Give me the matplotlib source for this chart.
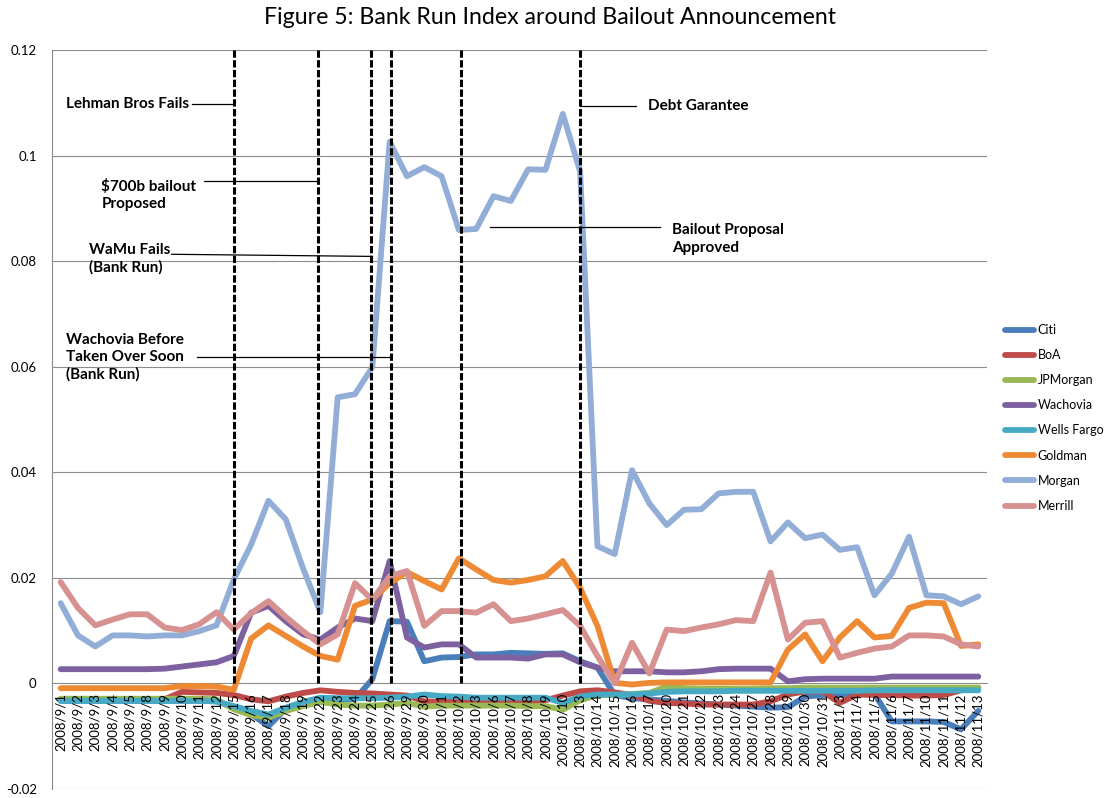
import matplotlib
matplotlib.use("Agg")
import matplotlib.pyplot as plt
import numpy as np

plt.rcParams['font.family'] = ['Lato', 'DejaVu Sans']

dates = ["2008/9/1", "2008/9/2", "2008/9/3", "2008/9/4", "2008/9/5", "2008/9/8", "2008/9/9",
         "2008/9/10", "2008/9/11", "2008/9/12", "2008/9/15", "2008/9/16", "2008/9/17", "2008/9/18",
         "2008/9/19", "2008/9/22", "2008/9/23", "2008/9/24", "2008/9/25", "2008/9/26", "2008/9/29",
         "2008/9/30", "2008/10/1", "2008/10/2", "2008/10/3", "2008/10/6", "2008/10/7", "2008/10/8",
         "2008/10/9", "2008/10/10", "2008/10/13", "2008/10/14", "2008/10/15", "2008/10/16",
         "2008/10/17", "2008/10/20", "2008/10/21", "2008/10/22", "2008/10/23", "2008/10/24",
         "2008/10/27", "2008/10/28", "2008/10/29", "2008/10/30", "2008/10/31", "2008/11/3",
         "2008/11/4", "2008/11/5", "2008/11/6", "2008/11/7", "2008/11/10", "2008/11/11",
         "2008/11/12", "2008/11/13"]

citi = [-0.0033, -0.0033, -0.0033, -0.0033, -0.0033, -0.0033, -0.0033, -0.0033, -0.0033, -0.0034,
        -0.0045, -0.0058, -0.0081, -0.0048, -0.0037, -0.0029, -0.0030, -0.0030, 0.0008, 0.0118,
        0.0117, 0.0042, 0.0049, 0.0050, 0.0055, 0.0055, 0.0058, 0.0057, 0.0056, 0.0057,
        0.0042, 0.0030, -0.0022, -0.0028, -0.0030, -0.0033, -0.0036, -0.0038, -0.0040, -0.0042,
        -0.0044, -0.0046, -0.0045, -0.0025, -0.0022, -0.0022, -0.0020, -0.0020, -0.0072, -0.0072,
        -0.0072, -0.0073, -0.0087, -0.0052]
boa = [-0.0030, -0.0030, -0.0030, -0.0030, -0.0030, -0.0030, -0.0030, -0.0016, -0.0017, -0.0018,
       -0.0022, -0.0030, -0.0034, -0.0025, -0.0018, -0.0013, -0.0016, -0.0018, -0.0019, -0.0021,
       -0.0023, -0.0034, -0.0035, -0.0035, -0.0036, -0.0036, -0.0036, -0.0034, -0.0032, -0.0023,
       -0.0015, -0.0013, -0.0017, -0.0022, -0.0033, -0.0037, -0.0038, -0.0040, -0.0040, -0.0040,
       -0.0040, -0.0034, -0.0021, -0.0015, -0.0015, -0.0037, -0.0021, -0.0022, -0.0022, -0.0023,
       -0.0023, -0.0022, -0.0013, -0.0008]
jpmorgan = [-0.0029, -0.0029, -0.0029, -0.0029, -0.0029, -0.0029, -0.0029, -0.0029, -0.0029, -0.0030,
            -0.0049, -0.0060, -0.0065, -0.0052, -0.0043, -0.0035, -0.0040, -0.0042, -0.0042, -0.0040,
            -0.0037, -0.0044, -0.0042, -0.0042, -0.0042, -0.0042, -0.0042, -0.0043, -0.0043, -0.0050,
            -0.0032, -0.0022, -0.0022, -0.0020, -0.0018, -0.0006, -0.0009, -0.0010, -0.0010, -0.0010,
            -0.0010, -0.0009, -0.0009, -0.0008, -0.0008, -0.0008, -0.0008, -0.0008, -0.0008, -0.0008,
            -0.0008, -0.0008, -0.0008, -0.0008]
wachovia = [0.0027, 0.0027, 0.0027, 0.0027, 0.0027, 0.0027, 0.0028, 0.0032, 0.0036, 0.0040,
            0.0052, 0.0134, 0.0147, 0.0118, 0.0093, 0.0083, 0.0106, 0.0123, 0.0118, 0.0232,
            0.0087, 0.0068, 0.0074, 0.0074, 0.0049, 0.0049, 0.0049, 0.0047, 0.0055, 0.0055,
            0.0040, 0.0030, 0.0023, 0.0023, 0.0023, 0.0021, 0.0021, 0.0023, 0.0027, 0.0028,
            0.0028, 0.0028, 0.0004, 0.0008, 0.0009, 0.0009, 0.0009, 0.0009, 0.0013, 0.0013,
            0.0013, 0.0013, 0.0013, 0.0013]
wells_fargo = [-0.0033, -0.0033, -0.0033, -0.0033, -0.0033, -0.0033, -0.0033, -0.0033, -0.0033, -0.0034,
               -0.0043, -0.0052, -0.0059, -0.0046, -0.0035, -0.0027, -0.0028, -0.0028, -0.0028, -0.0027,
               -0.0025, -0.0021, -0.0024, -0.0025, -0.0027, -0.0027, -0.0027, -0.0027, -0.0027, -0.0037,
               -0.0025, -0.0021, -0.0021, -0.0021, -0.0019, -0.0016, -0.0015, -0.0015, -0.0015, -0.0014,
               -0.0014, -0.0014, -0.0014, -0.0014, -0.0014, -0.0014, -0.0014, -0.0013, -0.0013, -0.0013,
               -0.0013, -0.0013, -0.0013, -0.0013]
goldman = [-0.0009, -0.0009, -0.0009, -0.0009, -0.0009, -0.0009, -0.0009, -0.0005, -0.0005, -0.0006,
           -0.0012, 0.0085, 0.0110, 0.0090, 0.0070, 0.0052, 0.0045, 0.0147, 0.0159, 0.0190,
           0.0211, 0.0194, 0.0178, 0.0237, 0.0216, 0.0196, 0.0191, 0.0196, 0.0203, 0.0232,
           0.0181, 0.0109, 0.0001, -0.0002, 0.0001, 0.0002, 0.0002, 0.0002, 0.0002, 0.0002,
           0.0002, 0.0002, 0.0064, 0.0093, 0.0042, 0.0087, 0.0118, 0.0087, 0.0090, 0.0143,
           0.0153, 0.0152, 0.0071, 0.0074]
morgan = [0.0152, 0.0091, 0.0070, 0.0091, 0.0091, 0.0089, 0.0091, 0.0091, 0.0099, 0.0110,
          0.0197, 0.0263, 0.0346, 0.0311, 0.0218, 0.0135, 0.0542, 0.0548, 0.0599, 0.1026,
          0.0961, 0.0978, 0.0961, 0.0859, 0.0861, 0.0923, 0.0914, 0.0974, 0.0973, 0.1079,
          0.0970, 0.0260, 0.0245, 0.0404, 0.0341, 0.0300, 0.0329, 0.0330, 0.0360, 0.0363,
          0.0363, 0.0269, 0.0305, 0.0275, 0.0282, 0.0253, 0.0258, 0.0167, 0.0208, 0.0278,
          0.0167, 0.0165, 0.0150, 0.0165]
merrill = [0.0192, 0.0143, 0.0110, 0.0121, 0.0131, 0.0131, 0.0106, 0.0101, 0.0112, 0.0135,
           0.0102, 0.0133, 0.0156, 0.0126, 0.0099, 0.0074, 0.0093, 0.0190, 0.0158, 0.0203,
           0.0213, 0.0109, 0.0137, 0.0137, 0.0134, 0.0150, 0.0118, 0.0123, 0.0131, 0.0139,
           0.0109, 0.0052, 0.0000, 0.0077, 0.0019, 0.0102, 0.0099, 0.0106, 0.0112, 0.0120,
           0.0118, 0.0210, 0.0083, 0.0115, 0.0118, 0.0049, 0.0058, 0.0066, 0.0070, 0.0091,
           0.0091, 0.0089, 0.0074, 0.0070]

series = [("Citi", citi, "#4A7EBB"), ("BoA", boa, "#BE4B48"), ("JPMorgan", jpmorgan, "#98B954"),
          ("Wachovia", wachovia, "#7D60A0"), ("Wells Fargo", wells_fargo, "#46AAC5"),
          ("Goldman", goldman, "#EE8A34"), ("Morgan", morgan, "#92AED6"), ("Merrill", merrill, "#D69190")]

# event markers in category units, then the notes with their leader lines
events = [10.0, 14.85, 17.95, 19.05, 23.15, 30.0]
notes = [
    ("Lehman Bros Fails", 0.3, 0.1098, (7.6, 10.0), (0.1098, 0.1098)),
    ("$700b bailout\nProposed", 2.35, 0.0925, (8.3, 14.85), (0.0952, 0.0952)),
    ("WaMu Fails\n(Bank Run)", 1.65, 0.0805, (6.4, 17.95), (0.0813, 0.0809)),
    ("Wachovia Before\nTaken Over Soon\n(Bank Run)", 0.3, 0.0618, (7.9, 19.05), (0.0618, 0.0618)),
    ("Bailout Proposal\nApproved", 35.3, 0.0842, (24.8, 34.6), (0.0864, 0.0864)),
    ("Debt Garantee", 33.95, 0.1094, (30.0, 33.25), (0.1094, 0.1094)),
]

fig = plt.figure(figsize=(11.16, 7.98), dpi=100)
ax = fig.add_axes([52 / 1116, 1 - 789 / 798, 935 / 1116, 739 / 798])
x = np.arange(len(dates))

# move the category axis up to zero first (this resets the ticks)
ax.spines['bottom'].set_position(('data', 0))
ax.spines['bottom'].set_color('#8C8C8C')
ax.spines['bottom'].set_linewidth(0.8)
ax.spines['left'].set_color('#8C8C8C')
ax.spines['left'].set_linewidth(0.8)
ax.spines['top'].set_visible(False)
ax.spines['right'].set_visible(False)

handles = []
for name, vals, col in series:
    h, = ax.plot(x, vals, color=col, lw=4.2, label=name,
                 solid_joinstyle='round', solid_capstyle='round', zorder=3)
    handles.append(h)

for ev in events:
    ax.plot([ev, ev], [0, 0.12], color='black', lw=2.2, ls=(0, (2.4, 0.8)), zorder=4)

for txt, tx, ty, lx, ly in notes:
    ax.text(tx, ty, txt, fontsize=11, fontweight='bold', ha='left', va='center',
            linespacing=1.3, zorder=5)
    ax.plot(lx, ly, color='black', lw=0.9, zorder=4)

ax.set_xlim(-0.5, len(dates) - 0.5)
ax.set_ylim(-0.02, 0.12)
yt = [-0.02, 0, 0.02, 0.04, 0.06, 0.08, 0.1, 0.12]
ax.set_yticks(yt)
ax.set_yticklabels(["-0.02", "0", "0.02", "0.04", "0.06", "0.08", "0.1", "0.12"], fontsize=9.5)
for v in yt:
    if v != 0:
        ax.axhline(v, color='#8C8C8C', lw=0.8, zorder=1)

ax.set_xticks(x)
ax.set_xticklabels(dates, rotation=90, fontsize=9.5)
ax.tick_params(axis='x', length=0, pad=7)
ax.tick_params(axis='y', length=0, pad=11)
# date labels sit on top of the lines, as in the original
ax.xaxis.set_zorder(6)

fig.text(0.493, 1 - 18 / 798, "Figure 5: Bank Run Index around Bailout Announcement",
         fontsize=16.7, ha='center', va='center')

ax.legend(handles=handles, loc='upper left', bbox_to_anchor=(1005 / 1116, 1 - 324 / 798),
          bbox_transform=fig.transFigure, frameon=False, fontsize=9, handlelength=2.3,
          handletextpad=0.3, labelspacing=1.05, borderpad=0, borderaxespad=0)

fig.savefig("out.png", dpi=100)
